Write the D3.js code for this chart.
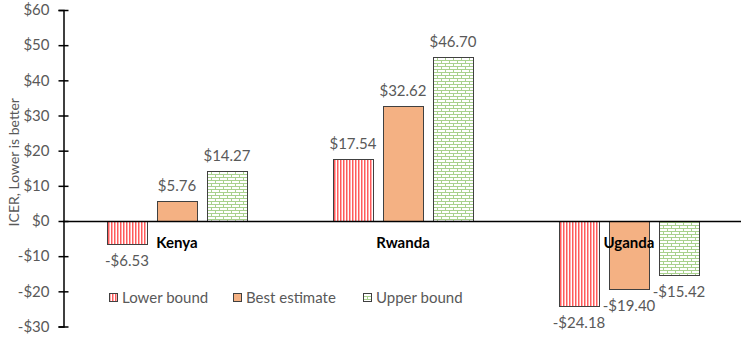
<!DOCTYPE html>
<html>
<head>
<meta charset="utf-8">
<script src="https://cdn.jsdelivr.net/npm/d3@7"></script>
<style>
  body { margin: 0; background: #fff; }
  text { font-family: Lato, "Open Sans", sans-serif; }
</style>
</head>
<body>
<div id="chart"></div>
<script>
const countries = ["Kenya", "Rwanda", "Uganda"];
const seriesNames = ["Lower bound", "Best estimate", "Upper bound"];
const lowerBound = [-6.53, 17.54, -24.18];
const bestEstimate = [5.76, 32.62, -19.40];
const upperBound = [14.27, 46.70, -15.42];
const yTicks = [-30, -20, -10, 0, 10, 20, 30, 40, 50, 60];

const width = 744, height = 337;
const margin = { top: 10, right: 3, bottom: 10, left: 63 };

const svg = d3.select("#chart").append("svg")
  .attr("width", width)
  .attr("height", height);

// patterns
const defs = svg.append("defs");
const stripes = defs.append("pattern")
  .attr("id", "stripes").attr("patternUnits", "userSpaceOnUse")
  .attr("width", 3).attr("height", 4);
stripes.append("rect").attr("width", 3).attr("height", 4).attr("fill", "#fff");
stripes.append("rect").attr("x", 0).attr("width", 1.5).attr("height", 4).attr("fill", "#ff5b5b");

const bricks = defs.append("pattern")
  .attr("id", "bricks").attr("patternUnits", "userSpaceOnUse")
  .attr("width", 8).attr("height", 6);
bricks.append("rect").attr("width", 8).attr("height", 6).attr("fill", "#fff");
bricks.append("path")
  .attr("d", "M0,0.5H8M0,3.5H8M0.5,0V3M4.5,3V6")
  .attr("stroke", "#a9d18e").attr("stroke-width", 1).attr("fill", "none");

const fills = ["url(#stripes)", "#f4b183", "url(#bricks)"];

const y = d3.scaleLinear()
  .domain([-30, 60])
  .range([height - margin.bottom - 0.5, margin.top]);

const x0 = d3.scaleBand()
  .domain(countries)
  .range([margin.left, width - margin.right]);

const x1 = d3.scaleBand()
  .domain(seriesNames)
  .range([x0.bandwidth() / 2 - 69, x0.bandwidth() / 2 + 71])
  .paddingInner(0.2);

const data = countries.map((c, i) => ({
  country: c,
  values: [lowerBound[i], bestEstimate[i], upperBound[i]]
}));

// bars
const groups = svg.selectAll("g.group")
  .data(data).enter().append("g")
  .attr("class", "group")
  .attr("transform", d => `translate(${x0(d.country)},0)`);

groups.selectAll("rect")
  .data(d => d.values.map((v, j) => ({ v, s: seriesNames[j], j })))
  .enter().append("rect")
  .attr("x", d => Math.round(x1(d.s)) + 0.5)
  .attr("y", d => Math.round(y(Math.max(0, d.v))) + 0.5)
  .attr("width", Math.round(x1.bandwidth()))
  .attr("height", d => Math.abs(Math.round(y(d.v)) - Math.round(y(0))))
  .attr("fill", d => fills[d.j])
  .attr("stroke", "#404040")
  .attr("stroke-width", 1);

// value labels
groups.selectAll("text.val")
  .data(d => d.values.map((v, j) => ({ v, s: seriesNames[j], j })))
  .enter().append("text")
  .attr("class", "val")
  .attr("x", d => x1(d.s) + x1.bandwidth() / 2)
  .attr("y", d => d.v >= 0 ? y(d.v) - 10 : y(d.v) + 22)
  .attr("text-anchor", "middle")
  .attr("font-size", 15)
  .attr("fill", "#595959")
  .text(d => (d.v < 0 ? "-$" : "$") + Math.abs(d.v).toFixed(2));

// zero line
svg.append("line")
  .attr("x1", margin.left).attr("x2", width - margin.right)
  .attr("y1", Math.round(y(0)) + 0.5).attr("y2", Math.round(y(0)) + 0.5)
  .attr("stroke", "#000").attr("stroke-width", 1.5);

// category labels
svg.selectAll("text.cat")
  .data(countries).enter().append("text")
  .attr("class", "cat")
  .attr("x", d => x0(d) + x0.bandwidth() / 2 + 1)
  .attr("y", y(0) + 27)
  .attr("text-anchor", "middle")
  .attr("font-size", 15)
  .attr("font-weight", "bold")
  .attr("fill", "#000")
  .text(d => d);

// y axis
const yAxis = svg.append("g")
  .attr("transform", `translate(${margin.left + 0.5},0)`)
  .call(d3.axisLeft(y).tickValues(yTicks).tickSize(5).tickPadding(9)
    .tickFormat(d => (d < 0 ? "-$" : "$") + Math.abs(d)));
yAxis.select(".domain").attr("stroke-width", 1.5);
yAxis.selectAll(".tick line").attr("x2", 5).attr("x1", -5).attr("stroke-width", 1.5);
yAxis.selectAll(".tick text")
  .attr("font-size", 15)
  .attr("font-family", "Lato, 'Open Sans', sans-serif")
  .attr("fill", "#595959");

// y axis title
svg.append("text")
  .attr("transform", `translate(19,${(y(60) + y(-30)) / 2 - 6}) rotate(-90)`)
  .attr("text-anchor", "middle")
  .attr("font-size", 14)
  .attr("fill", "#595959")
  .text("ICER, Lower is better");

// legend
const legendX = [109, 233, 363];
const legend = svg.selectAll("g.legend")
  .data(seriesNames).enter().append("g")
  .attr("class", "legend")
  .attr("transform", (d, i) => `translate(${legendX[i]},293)`);
legend.append("rect")
  .attr("x", 0.5).attr("y", 0.5)
  .attr("width", 8).attr("height", 8)
  .attr("fill", (d, i) => fills[i])
  .attr("stroke", "#404040");
legend.append("text")
  .attr("x", 13).attr("y", 10)
  .attr("font-size", 15)
  .attr("fill", "#595959")
  .text(d => d);
</script>
</body>
</html>
